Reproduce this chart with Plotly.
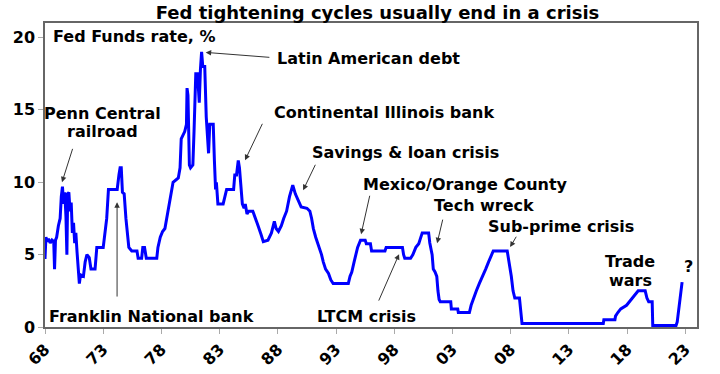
import plotly.graph_objects as go

years = [1968.00, 1968.08, 1968.2, 1968.3, 1968.45, 1968.6, 1968.75, 1968.82, 1968.9, 1969.0,
         1969.15, 1969.3, 1969.4, 1969.5, 1969.6, 1969.7, 1969.8, 1969.88, 1969.95, 1970.05,
         1970.15, 1970.25, 1970.35, 1970.45, 1970.55, 1970.65, 1970.75, 1970.85, 1970.95, 1971.05,
         1971.3, 1971.45, 1971.6, 1971.8, 1971.95, 1972.3, 1972.45, 1973.0, 1973.15, 1973.3,
         1973.45, 1974.2, 1974.35, 1974.45, 1974.55, 1974.65, 1974.8, 1974.95, 1975.2, 1975.45,
         1975.9, 1976.0, 1976.3, 1976.4, 1976.55, 1976.7, 1977.6, 1977.7, 1977.9, 1978.1,
         1978.3, 1978.5, 1978.75, 1979.0, 1979.45, 1979.6, 1979.7, 1980.0, 1980.15, 1980.2,
         1980.28, 1980.4, 1980.5, 1980.7, 1980.8, 1980.95, 1981.1, 1981.25, 1981.35, 1981.45,
         1981.55, 1981.72, 1981.85, 1981.95, 1982.05, 1982.15, 1982.45, 1982.55, 1982.65, 1982.72,
         1982.85, 1983.3, 1983.45, 1983.6, 1984.2, 1984.3, 1984.45, 1984.6, 1984.7, 1984.85,
         1984.95, 1985.1, 1985.2, 1985.35, 1985.5, 1985.85, 1986.1, 1986.3, 1986.55, 1986.75,
         1987.15, 1987.45, 1987.7, 1987.85, 1988.05, 1988.3, 1988.5, 1988.75, 1989.0, 1989.28,
         1989.5, 1989.75, 1990.0, 1990.5, 1990.75, 1990.9, 1991.05, 1991.25, 1991.48, 1991.75,
         1991.9, 1992.1, 1992.35, 1992.55, 1992.75, 1994.05, 1994.2, 1994.35, 1994.55, 1994.65,
         1994.85, 1995.1, 1995.5, 1995.6, 1995.95, 1996.05, 1997.2, 1997.3, 1998.7, 1998.8,
         1998.9, 1999.4, 1999.6, 1999.85, 2000.1, 2000.2, 2000.4, 2000.95, 2001.05, 2001.25,
         2001.35, 2001.5, 2001.65, 2001.75, 2001.85, 2001.95, 2002.85, 2002.9, 2003.45, 2003.5,
         2004.45, 2004.6, 2004.8, 2005.05, 2005.3, 2005.6, 2005.85, 2006.1, 2006.35, 2006.5,
         2007.7, 2007.8, 2007.95, 2008.05, 2008.2, 2008.35, 2008.75, 2008.8, 2008.9, 2008.97,
         2015.95, 2016.0, 2016.95, 2017.0, 2017.2, 2017.45, 2017.95, 2018.2, 2018.45, 2018.7,
         2018.95, 2019.55, 2019.6, 2019.7, 2019.85, 2020.15, 2020.2, 2022.2, 2022.3, 2022.38,
         2022.45, 2022.6, 2022.72]

fed_funds = [4.7, 6.2, 5.9, 6.1, 5.8, 6.0, 5.9, 4.0, 6.0, 6.2,
             7.0, 7.5, 9.0, 9.7, 8.5, 9.3, 7.6, 5.0, 9.2, 9.3,
             8.0, 8.6, 6.5, 7.2, 5.8, 6.5, 5.2, 4.3, 3.0, 3.6,
             3.5, 4.5, 5.0, 4.8, 4.0, 4.0, 5.5, 5.5, 6.5, 7.5,
             9.5, 9.5, 10.5, 11.0, 11.0, 9.3, 9.2, 7.5, 5.5, 5.25,
             5.25, 4.75, 4.75, 5.5, 5.5, 4.75, 4.75, 5.5, 6.2, 6.6,
             6.8, 7.7, 9.0, 10.0, 10.3, 11.0, 13.0, 13.5, 14.0, 16.5,
             16.0, 11.2, 11.0, 11.2, 13.5, 17.5, 17.5, 15.5, 17.8, 19.0,
             18.0, 18.0, 14.5, 13.5, 12.0, 14.0, 14.0, 11.5, 9.5, 10.0,
             8.5, 8.5, 9.0, 9.5, 9.5, 10.5, 10.5, 11.5, 11.0, 9.5,
             8.5, 8.2, 8.5, 7.8, 8.0, 8.0, 7.5, 7.0, 6.4, 5.9,
             6.0, 6.5, 7.3, 6.8, 6.6, 7.0, 7.5, 8.0, 9.0, 9.8,
             9.2, 8.75, 8.3, 8.2, 8.0, 7.5, 6.8, 6.2, 5.7, 5.0,
             4.5, 4.0, 3.7, 3.25, 3.0, 3.0, 3.5, 3.8, 4.5, 4.8,
             5.5, 6.0, 6.0, 5.75, 5.75, 5.25, 5.25, 5.5, 5.5, 5.0,
             4.75, 4.75, 5.0, 5.5, 5.75, 6.0, 6.5, 6.5, 5.8, 5.0,
             4.0, 3.8, 3.5, 2.5, 1.9, 1.75, 1.75, 1.25, 1.25, 1.0,
             1.0, 1.5, 2.0, 2.5, 3.0, 3.5, 4.0, 4.5, 5.0, 5.25,
             5.25, 4.75, 4.25, 3.5, 2.5, 2.0, 2.0, 1.5, 1.0, 0.25,
             0.25, 0.5, 0.5, 0.75, 1.0, 1.25, 1.5, 1.75, 2.0, 2.25,
             2.5, 2.5, 2.25, 2.0, 1.75, 1.75, 0.1, 0.1, 0.35, 0.85,
             1.6, 2.35, 3.1]

tick_vals = [1968, 1973, 1978, 1983, 1988, 1993, 1998, 2003, 2008, 2013, 2018, 2023]
tick_text = ["68", "73", "78", "83", "88", "93", "98", "03", "08", "13", "18", "23"]
y_ticks = [0, 5, 10, 15, 20]

FONT = "DejaVu Sans, Liberation Sans, Arial, sans-serif"

fig = go.Figure()
fig.add_trace(go.Scatter(x=years, y=fed_funds, mode="lines",
                         line=dict(color="#0000FF", width=3), hoverinfo="skip"))

# text labels: (text, x, y, xanchor)
labels = [
    ("Fed Funds rate, %", 1968.55, 20.07, "left"),
    ("Latin American debt", 1987.75, 18.55, "left"),
    ("Penn Central", 1972.95, 14.76, "center"),
    ("railroad", 1972.95, 13.52, "center"),
    ("Continental Illinois bank", 1987.5, 14.83, "left"),
    ("Savings & loan crisis", 1990.8, 12.07, "left"),
    ("Mexico/Orange County", 1995.1, 9.86, "left"),
    ("Tech wreck", 2001.2, 8.41, "left"),
    ("Sub-prime crisis", 2005.9, 6.97, "left"),
    ("Trade", 2018.25, 4.52, "center"),
    ("wars", 2018.25, 3.2, "center"),
    ("?", 2023.25, 4.15, "center"),
    ("Franklin National bank", 1968.15, 0.76, "left"),
    ("LTCM crisis", 1991.2, 0.76, "left"),
]
for txt, x, y, xa in labels:
    fig.add_annotation(x=x, y=y, text=txt, showarrow=False, xanchor=xa, yanchor="middle",
                       font=dict(family=FONT, size=16, color="black", weight="bold"),
                       align="center")

# arrows: (head_x, head_y, tail_x, tail_y)
arrows = [
    (1981.8, 18.97, 1987.4, 18.62),
    (1969.46, 10.0, 1970.41, 12.41),
    (1985.18, 11.52, 1986.73, 14.14),
    (1990.17, 9.45, 1991.28, 11.31),
    (1995.15, 6.41, 1995.92, 9.17),
    (1998.41, 5.03, 1996.61, 1.72),
    (2001.68, 5.79, 2002.19, 7.52),
    (2007.95, 5.52, 2008.55, 6.34),
    (1974.19, 8.62, 1974.19, 2.0),
]
for hx, hy, tx, ty in arrows:
    fig.add_annotation(x=hx, y=hy, ax=tx, ay=ty, xref="x", yref="y", axref="x", ayref="y",
                       text="", showarrow=True, arrowhead=2, arrowsize=1.1, arrowwidth=1,
                       arrowcolor="#333333")

fig.update_layout(
    width=720, height=374,
    margin=dict(l=45, r=23, t=23, b=47, autoexpand=False),
    paper_bgcolor="white", plot_bgcolor="white",
    showlegend=False,
    title=dict(text="Fed tightening cycles usually end in a crisis", x=0.51, xanchor="center",
               xref="paper", y=1 - 13 / 374, yref="container", yanchor="middle", automargin=False,
               font=dict(family=FONT, size=18, color="black", weight="bold")),
    font=dict(family=FONT, color="black"),
)
fig.update_xaxes(range=[1968, 2024], tickvals=tick_vals, ticktext=tick_text, tickangle=-45,
                 showgrid=False, zeroline=False, showline=True, linecolor="#666666", linewidth=1.5,
                 mirror=True, ticks="outside", tickcolor="#aaaaaa", ticklen=5, automargin=False,
                 tickfont=dict(family=FONT, size=16, color="black", weight="bold"))
fig.update_yaxes(range=[0, 21], tickvals=y_ticks, showgrid=False, zeroline=False,
                 showline=True, linecolor="#666666", linewidth=1.5, mirror=True,
                 ticks="outside", tickcolor="#aaaaaa", ticklen=5, automargin=False,
                 tickfont=dict(family=FONT, size=16, color="black", weight="bold"))

fig.write_html("out.html", config={"displayModeBar": False},
               post_script="document.body.style.margin='0';")
